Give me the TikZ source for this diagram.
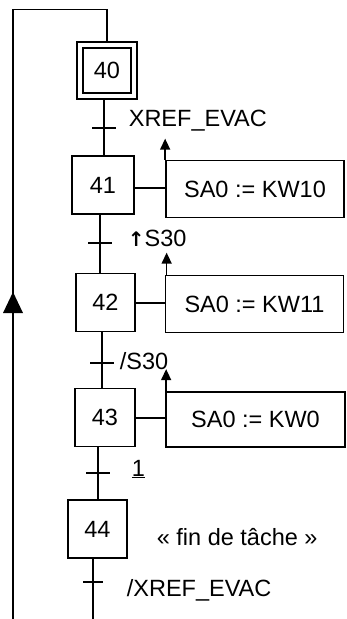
\documentclass[tikz,border=0pt]{standalone}
\usepackage{fontspec}
\setmainfont{Liberation Sans}
\newfontfamily\symfont{DejaVu Sans}
\usetikzlibrary{arrows.meta}
\begin{document}
\begin{tikzpicture}[x=1pt,y=-1pt,
  line width=1.7pt,
  every node/.style={font=\fontsize{23.5}{26}\selectfont, inner sep=0pt},
  stepbox/.style={draw, minimum width=#1, minimum height=58},
  actbox/.style={draw, minimum width=178, minimum height=57},
  tick/.style={line width=1.7pt},
  lbl/.style={anchor=west},
  act/.style={-{Triangle[length=11pt,width=10pt]}, line width=1.5pt}]
\useasboundingbox (0,0) rectangle (347,619);
% steps
\node[draw, minimum width=60, minimum height=57] (s40o) at (107,70.5) {};
\node[draw, minimum width=48, minimum height=45] (s40) at (107,70.5) {40};
\node[stepbox=62] (s41) at (103,185) {41};
\node[stepbox=59] (s42) at (105.5,302.5) {42};
\node[stepbox=60] (s43) at (105,417.5) {43};
\node[stepbox=59] (s44) at (97.5,529) {44};
% actions
\node[actbox] (a41) at (255,189) {SA0 := KW10};
\node[actbox] (a42) at (254.5,304) {SA0 := KW11};
\node[actbox, minimum width=179, minimum height=55] (a43) at (255.5,419.5) {SA0 := KW0};
% transitions
\coordinate (t1) at (104,128);
\coordinate (t2) at (100,243);
\coordinate (t3) at (102,363);
\coordinate (t4) at (98,473);
\coordinate (t5) at (93,582);
\coordinate (bot) at (93,619);
\coordinate (lbot) at (13,619);
\coordinate (ltop) at (13,9.5);
\coordinate (larrow) at (13,292);
% links
\draw (s40o.south -| t1) -- (s41.north -| t1);
\draw (s41.south -| t2) -- (s42.north -| t2);
\draw (s42.south -| t3) -- (s43.north -| t3);
\draw (s43.south -| t4) -- (s44.north -| t4);
\draw (s44.south -| t5) -- (bot);
\draw (lbot) -- (ltop) -| (s40o.north);
\fill (larrow) -- ++(-10,21) -- ++(20,0) -- cycle;
% ticks
\foreach \t in {t1,t2,t3,t4} \draw[tick] ([xshift=-12pt]\t) -- ([xshift=12pt]\t);
\draw[tick] ([xshift=-10pt]t5) -- ([xshift=10pt]t5);
% action links
\draw (s41.east |- 0,188) -- (a41.west |- 0,188);
\draw (s42.east |- 0,303) -- (a42.west |- 0,303);
\draw (s43.east |- 0,418) -- (a43.west |- 0,418);
% event arrows
\draw[act] (a41.north west) -- ++(0,-21);
\draw[act] ([xshift=2pt]a42.north west) -- ++(0,-22);
\draw[act] ([xshift=1pt]a43.north west) -- ++(0,-22);
% labels
\node[lbl] (l1) at (128,121) {XREF\_EVAC};
\node[lbl] (l2) at (127,238) {{\symfont\fontsize{20}{22}\selectfont\bfseries ↑}S30};
\node[lbl] (l3) at (119,361) {/S30};
\node[lbl] (l4) at (131,469) {\underline{1}};
\node[lbl] (l5) at (156,537) {« fin de tâche »};
\node[lbl] (l6) at (126,590) {/XREF\_EVAC};
\end{tikzpicture}
\end{document}
